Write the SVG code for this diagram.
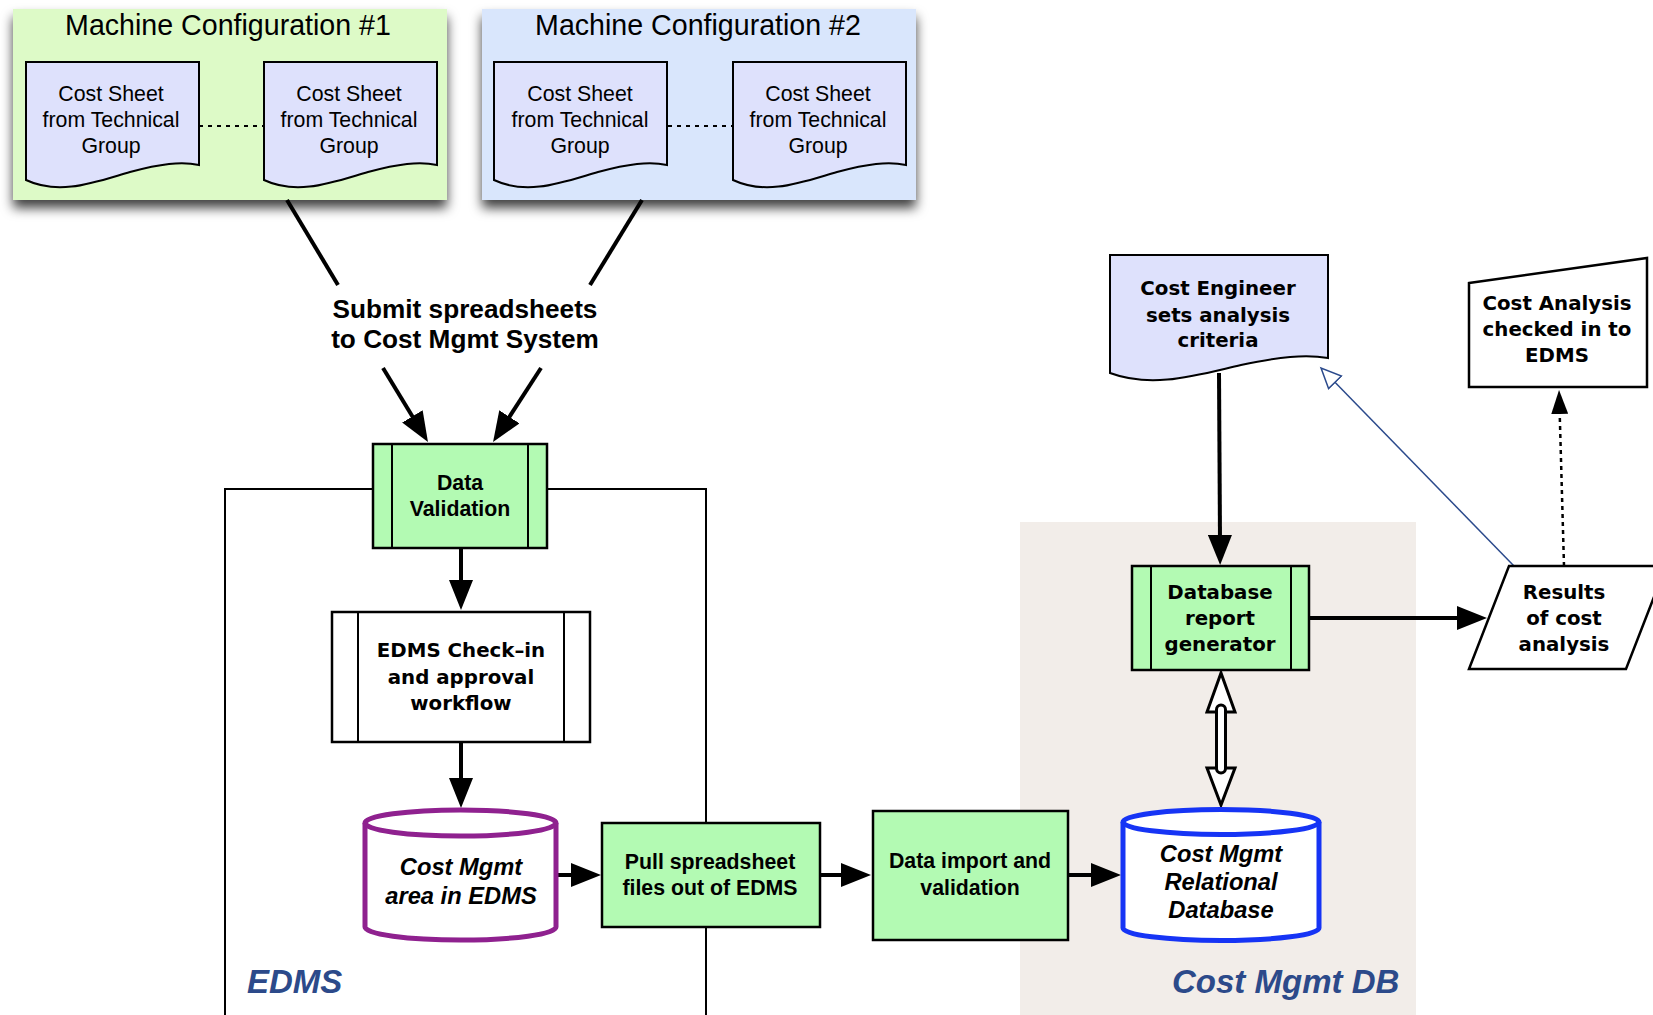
<svg xmlns="http://www.w3.org/2000/svg" width="1653" height="1015" viewBox="0 0 1653 1015">
<defs>
<style>
.reg{font-family:"Liberation Sans",Arial,sans-serif;font-size:21.3px;text-anchor:middle;fill:#000}
.title{font-family:"Liberation Sans",Arial,sans-serif;font-size:28.6px;text-anchor:middle;fill:#000}
.bold{font-family:"Liberation Sans",Arial,sans-serif;font-weight:bold;font-size:21.3px;text-anchor:middle;fill:#000}
.sub{font-family:"Liberation Sans",Arial,sans-serif;font-weight:bold;font-size:26.2px;text-anchor:middle;fill:#000}
.luc{font-family:"DejaVu Sans",sans-serif;font-weight:bold;font-size:19.8px;text-anchor:middle;fill:#000}
.bi{font-family:"Liberation Sans",Arial,sans-serif;font-weight:bold;font-style:italic;font-size:23.7px;text-anchor:middle;fill:#000}
.lbl{font-family:"Liberation Sans",Arial,sans-serif;font-weight:bold;font-style:italic;font-size:33px;fill:#2c4a8a}
.doc{fill:#dee1fc;stroke:#000;stroke-width:2}
.green{fill:#b3fab3;stroke:#000;stroke-width:2.5}
.white{fill:#fff;stroke:#000;stroke-width:2.5}
.inner{stroke:#000;stroke-width:2;fill:none}
.conn{stroke:#000;stroke-width:4;fill:none}
.frame{stroke:#000;stroke-width:2;fill:none}
</style>
<filter id="shadow" x="-10%" y="-10%" width="120%" height="140%">
<feDropShadow dx="0" dy="8" stdDeviation="6" flood-color="#000" flood-opacity="0.75"/>
</filter>
<path id="docshape" d="M0,0 H173 V103 C155,99 134,102 104,110 C69,120 34,134 0,118 Z"/>
<marker id="ah" markerUnits="userSpaceOnUse" markerWidth="30" markerHeight="24" refX="6" refY="12" orient="auto">
<path d="M0,0 L30,12 L0,24 Z" fill="#000"/>
</marker>
<marker id="ahs" markerUnits="userSpaceOnUse" markerWidth="24" markerHeight="17" refX="4" refY="8.5" orient="auto">
<path d="M0,0 L24,8.5 L0,17 Z" fill="#000"/>
</marker>
<marker id="ahh" markerUnits="userSpaceOnUse" markerWidth="24" markerHeight="22" refX="1" refY="10" orient="auto">
<path d="M1,1 L21,10 L1,19 Z" fill="#fff" stroke="#2b4a8c" stroke-width="1.5"/>
</marker>
</defs>

<rect x="0" y="0" width="1653" height="1015" fill="#fff"/>

<g id="cost-mgmt-db-region">
<rect x="1020" y="522" width="396" height="493" fill="#f2ede9"/>
<text class="lbl" x="1172" y="993">Cost Mgmt DB</text>
</g>

<g id="edms-region">
<path class="frame" d="M373,489 H225 V1015 M547,489 H706 V1015"/>
<text class="lbl" x="247" y="993">EDMS</text>
</g>

<g id="machine-config-1">
<rect x="13" y="9" width="434" height="191" fill="#ddfac7" filter="url(#shadow)"/>
<text class="title" x="228" y="35">Machine Configuration #1</text>
</g>
<g id="machine-config-2">
<rect x="482" y="9" width="434" height="191" fill="#d9e6fc" filter="url(#shadow)"/>
<text class="title" x="698" y="35">Machine Configuration #2</text>
</g>

<g id="connectors">
<line x1="199" y1="126" x2="264" y2="126" stroke="#000" stroke-width="2" stroke-dasharray="4,5"/>
<line x1="668" y1="126" x2="733" y2="126" stroke="#000" stroke-width="2" stroke-dasharray="4,5"/>
<line class="conn" x1="287" y1="200" x2="338" y2="285"/>
<line class="conn" x1="642" y1="200" x2="590" y2="285"/>
<line class="conn" x1="383" y1="368" x2="415.5" y2="421.5" marker-end="url(#ah)"/>
<line class="conn" x1="541" y1="368" x2="506.1" y2="421.9" marker-end="url(#ah)"/>
<line class="conn" x1="461" y1="548" x2="461" y2="586" marker-end="url(#ah)"/>
<line class="conn" x1="461" y1="742" x2="461" y2="784" marker-end="url(#ah)"/>
<line class="conn" x1="556" y1="875" x2="577" y2="875" marker-end="url(#ah)"/>
<line class="conn" x1="820" y1="875" x2="847" y2="875" marker-end="url(#ah)"/>
<line class="conn" x1="1068" y1="875" x2="1097" y2="875" marker-end="url(#ah)"/>
<line class="conn" x1="1219" y1="373" x2="1220" y2="541" marker-end="url(#ah)"/>
<line class="conn" x1="1309" y1="618" x2="1463" y2="618" marker-end="url(#ah)"/>
<line x1="1564" y1="566" x2="1559.6" y2="410" stroke="#000" stroke-width="2.5" stroke-dasharray="4,4" marker-end="url(#ahs)"/>
<line x1="1514" y1="566" x2="1335" y2="382.3" stroke="#2b4a8c" stroke-width="1.5" marker-end="url(#ahh)"/>
<g id="db-link">
<polygon points="1221,673 1207,712 1235,712" fill="#fff" stroke="#000" stroke-width="3" stroke-linejoin="miter"/>
<polygon points="1207,768 1235,768 1221,805" fill="#fff" stroke="#000" stroke-width="3" stroke-linejoin="miter"/>
<rect x="1216.5" y="705" width="9" height="68" rx="4.5" fill="#fff" stroke="#000" stroke-width="3"/>
</g>
</g>

<g id="cost-sheet-1">
<use href="#docshape" class="doc" transform="translate(26,62)"/>
<text class="reg" x="111" y="101">Cost Sheet</text>
<text class="reg" x="111" y="127">from Technical</text>
<text class="reg" x="111" y="153">Group</text>
</g>
<g id="cost-sheet-2">
<use href="#docshape" class="doc" transform="translate(264,62)"/>
<text class="reg" x="349" y="101">Cost Sheet</text>
<text class="reg" x="349" y="127">from Technical</text>
<text class="reg" x="349" y="153">Group</text>
</g>
<g id="cost-sheet-3">
<use href="#docshape" class="doc" transform="translate(494,62)"/>
<text class="reg" x="580" y="101">Cost Sheet</text>
<text class="reg" x="580" y="127">from Technical</text>
<text class="reg" x="580" y="153">Group</text>
</g>
<g id="cost-sheet-4">
<use href="#docshape" class="doc" transform="translate(733,62)"/>
<text class="reg" x="818" y="101">Cost Sheet</text>
<text class="reg" x="818" y="127">from Technical</text>
<text class="reg" x="818" y="153">Group</text>
</g>

<g id="submit-label">
<text class="sub" x="465" y="318">Submit spreadsheets</text>
<text class="sub" x="465" y="348">to Cost Mgmt System</text>
</g>

<g id="data-validation">
<rect class="green" x="373" y="444" width="174" height="104"/>
<path class="inner" d="M392,444 V548 M528,444 V548"/>
<text class="bold" x="460" y="490">Data</text>
<text class="bold" x="460" y="516">Validation</text>
</g>

<g id="edms-checkin">
<rect class="white" x="332" y="612" width="258" height="130"/>
<path class="inner" d="M358,612 V742 M564,612 V742"/>
<text class="luc" x="461" y="657" font-size="20.3">EDMS Check–in</text>
<text class="luc" x="461" y="684" font-size="20.3">and approval</text>
<text class="luc" x="461" y="710" font-size="20.3">workflow</text>
</g>

<g id="cost-mgmt-area">
<path d="M365,823 A95.5,13 0 0 1 556,823 V927 A95.5,13 0 0 1 365,927 Z" fill="#fff" stroke="#8f218f" stroke-width="5"/>
<path d="M365,823 A95.5,13 0 0 0 556,823" fill="none" stroke="#8f218f" stroke-width="5"/>
<text class="bi" x="461" y="875">Cost Mgmt</text>
<text class="bi" x="461" y="904">area in EDMS</text>
</g>

<g id="pull-spreadsheet">
<rect class="green" x="602" y="823" width="218" height="104"/>
<text class="bold" x="710" y="869">Pull spreadsheet</text>
<text class="bold" x="710" y="895">files out of EDMS</text>
</g>

<g id="data-import">
<rect class="green" x="873" y="811" width="195" height="129"/>
<text class="bold" x="970" y="868">Data import and</text>
<text class="bold" x="970" y="895">validation</text>
</g>

<g id="relational-db">
<path d="M1123,822 A98,12.5 0 0 1 1319,822 V928 A98,12.5 0 0 1 1123,928 Z" fill="#fff" stroke="#1634f5" stroke-width="5"/>
<path d="M1123,822 A98,12.5 0 0 0 1319,822" fill="none" stroke="#1634f5" stroke-width="5"/>
<text class="bi" x="1221" y="862">Cost Mgmt</text>
<text class="bi" x="1221" y="890">Relational</text>
<text class="bi" x="1221" y="918">Database</text>
</g>

<g id="cost-engineer">
<path class="doc" d="M1110,255 H1328 V358 C1305,354 1279,357 1241,365 C1197,375 1153,389 1110,373 Z"/>
<text class="luc" x="1218" y="295">Cost Engineer</text>
<text class="luc" x="1218" y="322">sets analysis</text>
<text class="luc" x="1218" y="347">criteria</text>
</g>

<g id="db-report-generator">
<rect class="green" x="1132" y="566" width="177" height="104"/>
<path class="inner" d="M1151,566 V670 M1291,566 V670"/>
<text class="luc" x="1220" y="599">Database</text>
<text class="luc" x="1220" y="625">report</text>
<text class="luc" x="1220" y="651">generator</text>
</g>

<g id="results">
<polygon points="1509,566 1666,566 1626,669 1469,669" class="white"/>
<text class="luc" x="1564" y="599">Results</text>
<text class="luc" x="1564" y="625">of cost</text>
<text class="luc" x="1564" y="651">analysis</text>
</g>

<g id="cost-analysis-checkin">
<polygon points="1469,283 1647,258 1647,387 1469,387" class="white"/>
<text class="luc" x="1557" y="310">Cost Analysis</text>
<text class="luc" x="1557" y="336">checked in to</text>
<text class="luc" x="1557" y="362">EDMS</text>
</g>
</svg>
